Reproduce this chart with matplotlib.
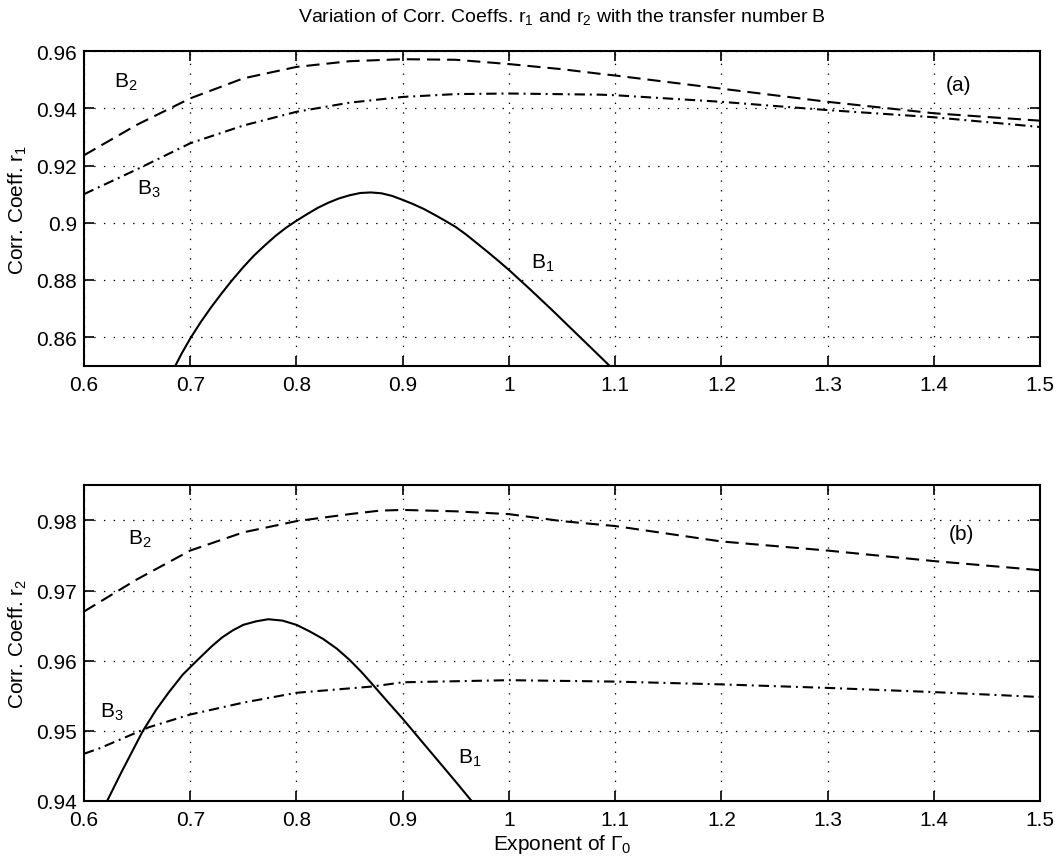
import matplotlib
matplotlib.use("Agg")
import matplotlib.pyplot as plt

plt.rcParams['font.family'] = ['Liberation Sans', 'DejaVu Sans']
plt.rcParams['mathtext.fontset'] = 'custom'
plt.rcParams['mathtext.rm'] = 'Liberation Sans'
plt.rcParams['mathtext.it'] = 'Liberation Sans'
plt.rcParams['mathtext.bf'] = 'Liberation Sans'
plt.rcParams['lines.scale_dashes'] = False

# ---------------- data ----------------
xticks = [0.6, 0.7, 0.8, 0.9, 1.0, 1.1, 1.2, 1.3, 1.4, 1.5]
xticklabels = ['0.6', '0.7', '0.8', '0.9', '1', '1.1', '1.2', '1.3', '1.4', '1.5']

# panel (a): r1
yticks_a = [0.86, 0.88, 0.90, 0.92, 0.94, 0.96]
yticklabels_a = ['0.86', '0.88', '0.9', '0.92', '0.94', '0.96']

a_b1_x = [0.686, 0.692, 0.700, 0.710, 0.720, 0.730, 0.739, 0.750, 0.760, 0.770,
          0.780, 0.790, 0.800, 0.810, 0.820, 0.830, 0.840, 0.850, 0.860, 0.870,
          0.880, 0.890, 0.900, 0.910, 0.920, 0.930, 0.940, 0.950, 0.960, 0.970,
          0.980, 0.990, 1.000, 1.010, 1.020, 1.030, 1.040, 1.050, 1.060, 1.070,
          1.080, 1.0947]
a_b1_y = [0.8500, 0.8543, 0.8595, 0.8653, 0.8706, 0.8755, 0.8797, 0.8845, 0.8885,
          0.8920, 0.8953, 0.8982, 0.9007, 0.9030, 0.9052, 0.9070, 0.9085, 0.9096,
          0.9104, 0.9106, 0.9103, 0.9094, 0.9080, 0.9065, 0.9048, 0.9028, 0.9007,
          0.8985, 0.8958, 0.8928, 0.8898, 0.8867, 0.8835, 0.8801, 0.8767, 0.8732,
          0.8697, 0.8661, 0.8625, 0.8589, 0.8553, 0.8500]

a_b2_x = [0.60, 0.65, 0.70, 0.75, 0.80, 0.85, 0.90, 0.95, 1.00, 1.05, 1.0855, 1.10,
          1.20, 1.30, 1.40, 1.50]
a_b2_y = [0.9236, 0.9343, 0.9435, 0.9505, 0.9545, 0.9565, 0.9572, 0.9570, 0.9555,
          0.9537, 0.9521, 0.9515, 0.9469, 0.9423, 0.9383, 0.9357]

a_b3_x = [0.60, 0.65, 0.70, 0.75, 0.80, 0.85, 0.90, 0.95, 1.00, 1.0855, 1.10,
          1.20, 1.30, 1.40, 1.50]
a_b3_y = [0.9100, 0.9187, 0.9278, 0.9340, 0.9388, 0.9420, 0.9440, 0.9450, 0.9452,
          0.9448, 0.9446, 0.9423, 0.9394, 0.9369, 0.9335]

# panel (b): r2
yticks_b = [0.94, 0.95, 0.96, 0.97, 0.98]
yticklabels_b = ['0.94', '0.95', '0.96', '0.97', '0.98']

b_b1_x = [0.6219, 0.635, 0.6552, 0.668, 0.680, 0.693, 0.707, 0.720, 0.730, 0.740,
          0.750, 0.762, 0.7734, 0.787, 0.800, 0.812, 0.825, 0.838, 0.850, 0.861,
          0.8716, 0.886, 0.900, 0.925, 0.950, 0.9647]
b_b1_y = [0.9400, 0.9440, 0.9499, 0.9530, 0.9555, 0.9580, 0.9601, 0.9620, 0.9633,
          0.9643, 0.9651, 0.9656, 0.9659, 0.9657, 0.9651, 0.9642, 0.9631, 0.9617,
          0.9601, 0.9584, 0.9566, 0.9541, 0.9517, 0.9472, 0.9427, 0.9400]

b_b2_x = [0.60, 0.65, 0.70, 0.75, 0.80, 0.85, 0.8785, 0.90, 0.95, 1.00, 1.05, 1.10,
          1.20, 1.30, 1.40, 1.50]
b_b2_y = [0.9670, 0.9716, 0.9757, 0.9783, 0.9799, 0.9809, 0.9814, 0.9815, 0.9813,
          0.9809, 0.9799, 0.9792, 0.9770, 0.9757, 0.9742, 0.9729]

b_b3_x = [0.60, 0.615, 0.6614, 0.70, 0.75, 0.80, 0.8716, 0.90, 1.00, 1.10, 1.20,
          1.30, 1.40, 1.50]
b_b3_y = [0.9467, 0.9475, 0.9505, 0.9523, 0.9540, 0.9554, 0.9563, 0.9569, 0.9572,
          0.9570, 0.9566, 0.9561, 0.9555, 0.9548]

# ---------------- figure ----------------
W, H = 1056, 862
fig = plt.figure(figsize=(W / 100, H / 100), dpi=100)
fig.patch.set_facecolor('white')

ax_a = fig.add_axes([84 / W, 1 - 366.7 / H, (1040 - 84) / W, (366.7 - 52.2) / H])
ax_b = fig.add_axes([84 / W, 1 - 801.7 / H, (1040 - 84) / W, (801.7 - 485.7) / H])

FS = 15
LW = 1.5
DASH = (0, (9.5, 5.0))
DASHDOT = (0, (7.5, 3.5, 1.4, 3.5))


def style_axes(ax, ylim, yt, ytl, ylabel):
    ax.set_xlim(0.6, 1.5)
    ax.set_ylim(*ylim)
    ax.set_xticks(xticks)
    ax.set_xticklabels(xticklabels)
    ax.set_yticks(yt)
    ax.set_yticklabels(ytl)
    ax.tick_params(direction='in', length=7, width=1.2, top=True, right=True,
                   labelsize=FS, colors='black')
    ax.tick_params(axis='x', pad=7)
    ax.tick_params(axis='y', pad=5)
    ax.grid(True, color='black', linestyle=(0, (1.0, 6.0)), linewidth=0.9)
    for s in ax.spines.values():
        s.set_linewidth(1.5)
        s.set_color('black')
    ax.set_ylabel(ylabel, fontsize=FS, labelpad=5)


# panel (a)
ax_a.plot(a_b1_x, a_b1_y, color='black', linewidth=LW, linestyle='-')
ax_a.plot(a_b2_x, a_b2_y, color='black', linewidth=LW, linestyle=DASH)
ax_a.plot(a_b3_x, a_b3_y, color='black', linewidth=LW, linestyle=DASHDOT)
style_axes(ax_a, (0.85, 0.96), yticks_a, yticklabels_a, r'Corr. Coeff. r$_1$')
ax_a.text(0.628, 0.9493, r'B$_2$', fontsize=FS, va='center', ha='left')
ax_a.text(0.650, 0.9120, r'B$_3$', fontsize=FS, va='center', ha='left')
ax_a.text(1.021, 0.8862, r'B$_1$', fontsize=FS, va='center', ha='left')
ax_a.text(1.4115, 0.9483, '(a)', fontsize=FS, va='center', ha='left')

# panel (b)
ax_b.plot(b_b1_x, b_b1_y, color='black', linewidth=LW, linestyle='-')
ax_b.plot(b_b2_x, b_b2_y, color='black', linewidth=LW, linestyle=DASH)
ax_b.plot(b_b3_x, b_b3_y, color='black', linewidth=LW, linestyle=DASHDOT)
style_axes(ax_b, (0.94, 0.9851), yticks_b, yticklabels_b, r'Corr. Coeff. r$_2$')
ax_b.text(0.6414, 0.9774, r'B$_2$', fontsize=FS, va='center', ha='left')
ax_b.text(0.615, 0.9527, r'B$_3$', fontsize=FS, va='center', ha='left')
ax_b.text(0.952, 0.9462, r'B$_1$', fontsize=FS, va='center', ha='left')
ax_b.text(1.4138, 0.9781, '(b)', fontsize=FS, va='center', ha='left')
ax_b.set_xlabel(r'Exponent of $\Gamma_0$', fontsize=FS, labelpad=2)

fig.text(562 / W, 1 - 17 / H,
         r'Variation of Corr. Coeffs. r$_1$ and r$_2$ with the transfer number B',
         fontsize=14, ha='center', va='center')

fig.savefig('out.png', dpi=100, facecolor='white')
